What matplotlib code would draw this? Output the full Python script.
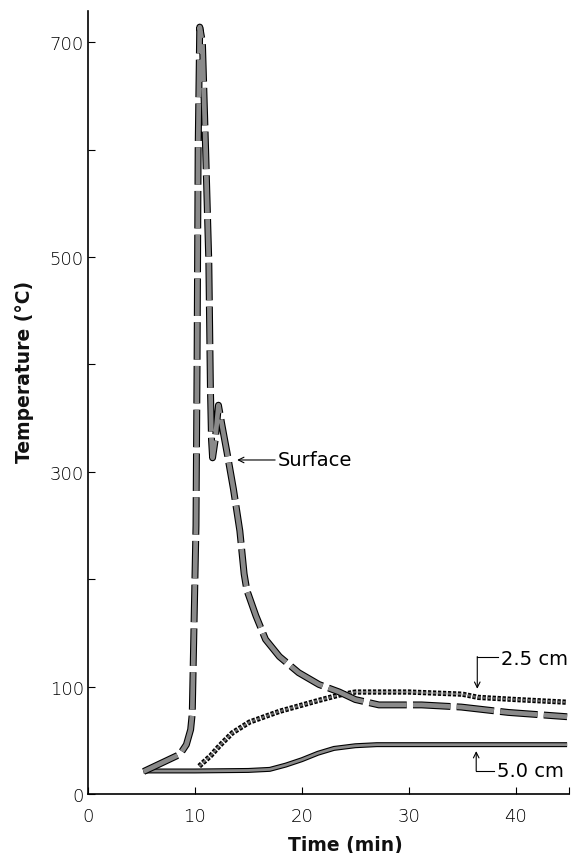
import matplotlib
matplotlib.use('Agg')
import matplotlib.pyplot as plt
import matplotlib.patheffects as pe
from matplotlib import rcParams

rcParams['font.family'] = ['DejaVu Sans']
rcParams['lines.scale_dashes'] = False

# surface temperature (dashed)
surface_time = [5.2, 8.6, 9.2, 9.6, 9.75, 9.9, 10.1, 10.2, 10.25, 10.3, 10.45, 10.7, 11.0, 11.3, 11.45,
                11.55, 11.65, 11.9, 12.2, 12.5, 13.0, 13.6, 14.2, 14.6, 14.85, 15.7, 16.6, 17.9, 19.7,
                21.6, 23.5, 25.0, 27.2, 31.2, 34.9, 39.3, 44.8]
surface_temp = [21, 37, 46, 60, 75, 150, 250, 400, 500, 600, 714, 700, 600, 495, 377,
                330, 313, 330, 362, 345, 318, 284, 245, 205, 190, 166, 144, 128, 113,
                102, 95, 88, 83, 83, 81, 76, 72]

# 2.5 cm depth (dotted)
mid_time = [10.4, 11.5, 12.3, 13.5, 15.1, 17.9, 19.7, 21.5, 23.4, 25.0, 30.0, 35.0, 36.5, 40.0, 44.8]
mid_temp = [26, 36, 45, 57, 67, 77, 82, 87, 92, 95, 95, 93, 90, 88, 85.5]

# 5.0 cm depth (solid)
deep_time = [5.2, 10.0, 15.0, 17.0, 18.5, 20.0, 21.5, 23.0, 25.0, 27.0, 44.8]
deep_temp = [21.5, 21.5, 22, 23, 27, 32, 38, 42.5, 45, 46, 46]

x_ticks = [0, 10, 20, 30, 40, 45]
x_tick_labels = ['0', '10', '20', '30', '40', '']
y_ticks = [0, 100, 200, 300, 400, 500, 600, 700]
y_tick_labels = ['0', '100', '', '300', '', '500', '', '700']

fill_gray = '#8a8a8a'

fig = plt.figure(figsize=(5.75, 8.54), dpi=100)
ax = fig.add_axes([0.153, 0.069, 0.837, 0.917])

ax.plot(deep_time, deep_temp, color=fill_gray, lw=2.0, solid_capstyle='butt',
        path_effects=[pe.Stroke(linewidth=3.6, foreground='black'), pe.Normal()])
ax.plot(mid_time, mid_temp, color='#666666', lw=1.6, dashes=(2.4, 1.2),
        path_effects=[pe.Stroke(linewidth=3.8, foreground='black'), pe.Normal()])
ax.plot(surface_time, surface_temp, color=fill_gray, lw=3.4, dashes=(27, 4.5),
        path_effects=[pe.Stroke(linewidth=5.0, foreground='black'), pe.Normal()])

ax.set_xlim(0, 45)
ax.set_ylim(0, 729)
ax.spines['top'].set_visible(False)
ax.spines['right'].set_visible(False)
ax.spines['left'].set_linewidth(1.2)
ax.spines['bottom'].set_linewidth(1.2)

ax.set_xticks(x_ticks)
ax.set_xticklabels(x_tick_labels)
ax.set_yticks(y_ticks)
ax.set_yticklabels(y_tick_labels)
ax.tick_params(axis='both', direction='in', length=5, width=0.8, labelsize=13, colors='black')
ax.tick_params(axis='x', pad=9)
ax.tick_params(axis='y', pad=3)
for lbl in ax.get_xticklabels() + ax.get_yticklabels():
    lbl.set_fontweight('light')

fig.text(0.042, 0.564, 'Temperature (°C)', rotation=90, ha='center', va='center',
         fontsize=13.5, fontweight='bold', color='#111111')
fig.text(0.60, 0.003, 'Time (min)', ha='center', va='baseline',
         fontsize=13.5, fontweight='bold', color='#111111')

# annotations
arrow = dict(arrowstyle='->', color='black', lw=0.8, shrinkA=0, shrinkB=0)
ax.annotate('', xy=(13.95, 311), xytext=(17.5, 311), arrowprops=arrow)
ax.text(17.7, 311, 'Surface', fontsize=14, va='center', ha='left')

ax.plot([36.4, 38.3], [128, 128], color='black', lw=0.8)
ax.annotate('', xy=(36.4, 98), xytext=(36.4, 128), arrowprops=arrow)
ax.text(38.6, 126, '2.5 cm', fontsize=14, va='center', ha='left')

ax.plot([36.3, 38.0], [21.5, 21.5], color='black', lw=0.8)
ax.annotate('', xy=(36.3, 40), xytext=(36.3, 21.5), arrowprops=arrow)
ax.text(38.2, 21.5, '5.0 cm', fontsize=14, va='center', ha='left')

fig.savefig('out.png', dpi=100)
